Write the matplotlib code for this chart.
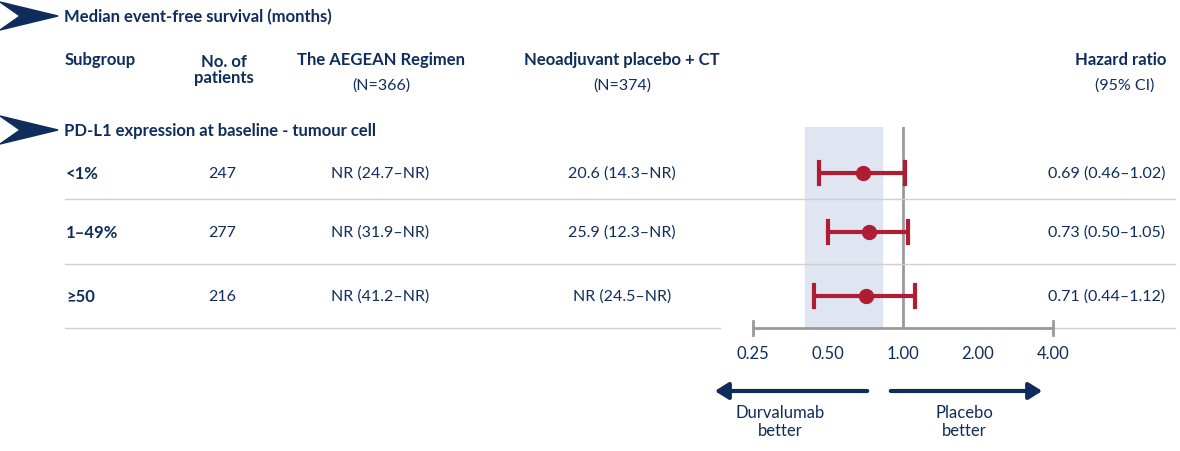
import matplotlib
matplotlib.use("Agg")
import matplotlib.pyplot as plt
from matplotlib.patches import Polygon, FancyArrowPatch

plt.rcParams['font.family'] = ['Lato', 'DejaVu Sans']

subgroups = ["<1%", "1\u201349%", "\u226550"]
n_patients = [247, 277, 216]
aegean = ["NR (24.7\u2013NR)", "NR (31.9\u2013NR)", "NR (41.2\u2013NR)"]
placebo = ["20.6 (14.3\u2013NR)", "25.9 (12.3\u2013NR)", "NR (24.5\u2013NR)"]
hr = [0.69, 0.73, 0.71]
lo = [0.46, 0.50, 0.44]
hi = [1.02, 1.05, 1.12]
ticks = [0.25, 0.50, 1.00, 2.00, 4.00]

NAVY = "#0f2d5c"
RED = "#b01c33"
GRAY = "#9a9a9a"
W, H = 1180, 452
fig = plt.figure(figsize=(W/100, H/100), dpi=100)

def fx(px): return px / W
def fy(py): return 1 - py / H

def chevron(py):
    pts = [(0, py-14), (58, py), (0, py+14), (20, py)]
    fig.patches.append(Polygon([(fx(a), fy(b)) for a, b in pts], closed=True,
                               transform=fig.transFigure, color=NAVY))

chevron(17); chevron(131)
fig.text(fx(64), fy(17), "Median event-free survival (months)", color=NAVY,
         fontsize=12, fontweight='bold', va='center')
fig.text(fx(64), fy(131), "PD-L1 expression at baseline - tumour cell", color=NAVY,
         fontsize=12, fontweight='bold', va='center')

hs = 12
bs = 11.5
fig.text(fx(65), fy(60), "Subgroup", color=NAVY, fontsize=hs, fontweight='bold', va='center')
fig.text(fx(224), fy(70), "No. of\npatients", color=NAVY, fontsize=hs, fontweight='bold',
         va='center', ha='center', linespacing=1.0)
fig.text(fx(381), fy(60), "The AEGEAN Regimen", color=NAVY, fontsize=hs, fontweight='bold', va='center', ha='center')
fig.text(fx(381), fy(86), "(N=366)", color=NAVY, fontsize=bs, va='center', ha='center')
fig.text(fx(622), fy(60), "Neoadjuvant placebo + CT", color=NAVY, fontsize=hs, fontweight='bold', va='center', ha='center')
fig.text(fx(622), fy(86), "(N=374)", color=NAVY, fontsize=bs, va='center', ha='center')
fig.text(fx(1166), fy(60), "Hazard ratio", color=NAVY, fontsize=hs, fontweight='bold', va='center', ha='right')
fig.text(fx(1125), fy(86), "(95% CI)", color=NAVY, fontsize=bs, va='center', ha='center')

row_y = [174, 233, 297]
for i, y in enumerate(row_y):
    fig.text(fx(66), fy(y), subgroups[i], color=NAVY, fontsize=hs, fontweight='bold', va='center')
    fig.text(fx(222), fy(y), str(n_patients[i]), color=NAVY, fontsize=bs, va='center', ha='center')
    fig.text(fx(380), fy(y), aegean[i], color=NAVY, fontsize=bs, va='center', ha='center')
    fig.text(fx(622), fy(y), placebo[i], color=NAVY, fontsize=bs, va='center', ha='center')
    fig.text(fx(1165), fy(y), f"{hr[i]:.2f} ({lo[i]:.2f}\u2013{hi[i]:.2f})", color=NAVY,
             fontsize=bs, va='center', ha='right')
for y in [200, 265]:
    fig.add_artist(plt.Line2D([fx(65), fx(1175)], [fy(y), fy(y)], color="#d0d0d0", lw=1))
fig.add_artist(plt.Line2D([fx(65), fx(720)], [fy(329), fy(329)], color="#d0d0d0", lw=1))
fig.add_artist(plt.Line2D([fx(1045), fx(1175)], [fy(329), fy(329)], color="#d0d0d0", lw=1))

px0, px1 = 700, 1060
py0, py1 = 128, 329
val = lambda p: 2 ** ((p - 903) / 75)
ax = fig.add_axes([fx(px0), fy(py1), fx(px1-px0), (py1-py0)/H])
ax.set_xscale('log', base=2)
ax.set_xlim(val(px0), val(px1))
ax.set_ylim(py1, py0)
ax.axvspan(0.404, 0.82, color="#dfe5f1", zorder=0)
ax.axvline(1.0, color=GRAY, lw=2, zorder=1)
for i, y in enumerate(row_y):
    ax.plot([lo[i], hi[i]], [y, y], color=RED, lw=3, zorder=3, solid_capstyle='butt')
    for v in (lo[i], hi[i]):
        ax.plot([v, v], [y-11, y+11], color=RED, lw=3, zorder=3)
    ax.plot(hr[i], y, 'o', color=RED, ms=10, zorder=4)
ax.axis('off')

inv = fig.transFigure.inverted()
def xfig(t): return inv.transform(ax.transData.transform((t, py1)))[0]

fig.add_artist(plt.Line2D([xfig(ticks[0]), xfig(ticks[-1])], [fy(329), fy(329)], color=GRAY, lw=2))
for t in ticks:
    xf = xfig(t)
    if t in (ticks[0], ticks[-1]):
        fig.add_artist(plt.Line2D([xf, xf], [fy(322), fy(336)], color=GRAY, lw=2))
    fig.text(xf, fy(354), f"{t:.2f}", ha='center', va='center', fontsize=12, color=NAVY)

for a, b in [(870, 712), (888, 1045)]:
    fig.add_artist(FancyArrowPatch((fx(a), fy(392)), (fx(b), fy(392)), transform=fig.transFigure,
                                   arrowstyle='-|>,head_length=8,head_width=5', color=NAVY, lw=3))
fig.text(fx(780), fy(422), "Durvalumab\nbetter", color=NAVY, fontsize=12, ha='center', va='center', linespacing=1.15)
fig.text(fx(964), fy(422), "Placebo\nbetter", color=NAVY, fontsize=12, ha='center', va='center', linespacing=1.15)

fig.savefig("out.png", dpi=100)
